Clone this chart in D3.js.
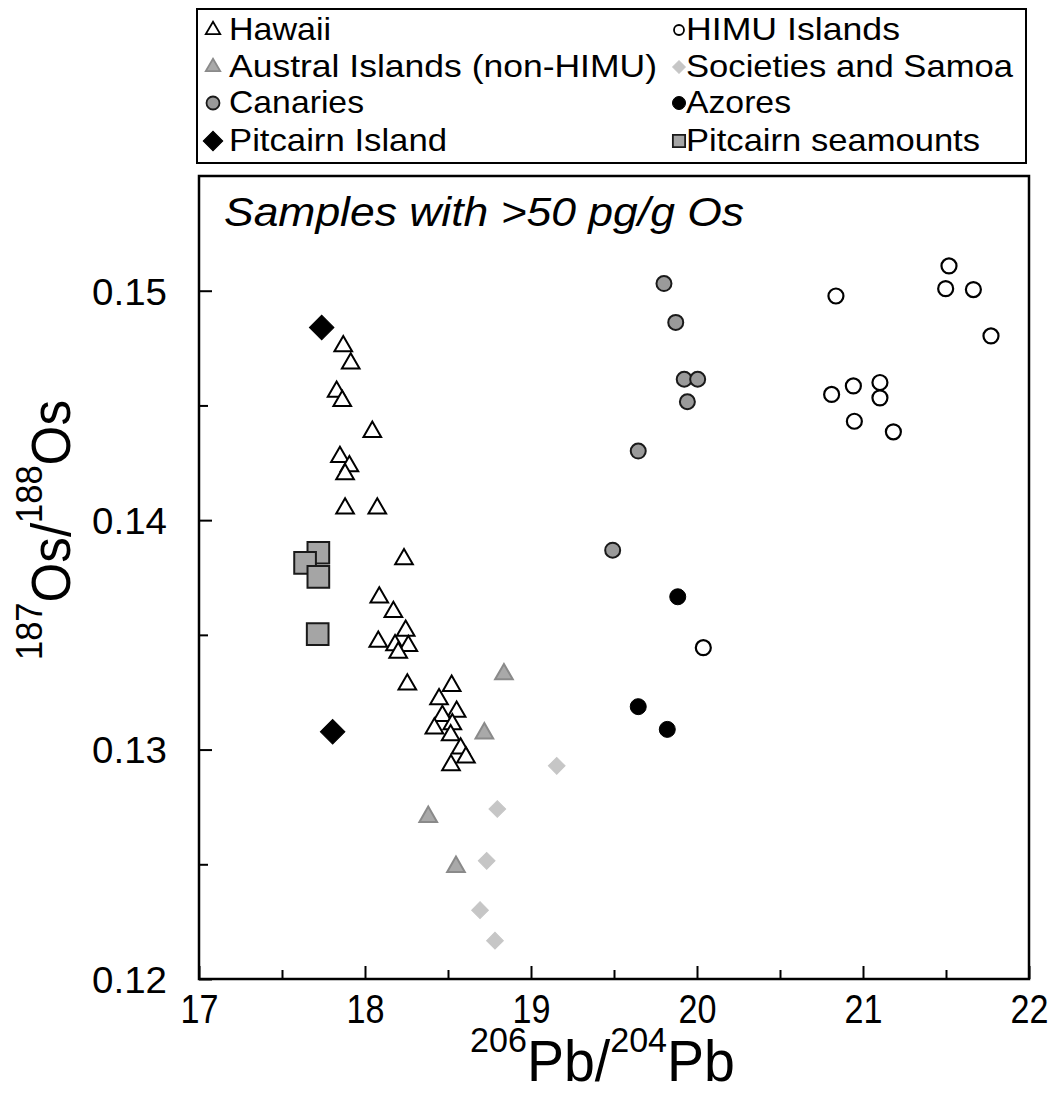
<!DOCTYPE html>
<html>
<head>
<meta charset="utf-8">
<script src="https://cdn.jsdelivr.net/npm/d3@7"></script>
<style>
  html, body { margin: 0; padding: 0; background: #fff; }
  svg { display: block; font-family: "Liberation Sans", Arial, sans-serif; }
</style>
</head>
<body>
<svg id="chart" width="1058" height="1095"></svg>
<script>
// ---------------- DATA ----------------
const xTicksMajor = [17, 18, 19, 20, 21, 22];
const xTicksMinor = [17.5, 18.5, 19.5, 20.5, 21.5];
const yTicksMajor = [0.12, 0.13, 0.14, 0.15];
const yTicksMinor = [0.125, 0.135, 0.145];

const hawaii = [
  [17.869,0.14758],[17.914,0.14683],[17.829,0.1456],[17.863,0.1452],[18.044,0.14385],
  [17.849,0.14276],[17.906,0.14235],[17.88,0.1420],[17.88,0.14051],[18.074,0.14051],
  [18.235,0.1383],[18.086,0.13663],[18.171,0.1360],[18.245,0.13518],[18.08,0.1347],
  [18.181,0.13455],[18.261,0.13452],[18.2,0.13422],[18.255,0.13284],[18.522,0.13278],
  [18.446,0.1322],[18.552,0.13165],[18.466,0.13147],[18.526,0.13111],[18.418,0.13092],
  [18.516,0.13063],[18.576,0.13005],[18.608,0.12966],[18.518,0.12932]
];
const himu = [
  [20.837,0.14977],[21.518,0.15108],[21.498,0.15009],[21.665,0.15005],[21.771,0.14803],
  [20.811,0.14548],[20.942,0.14585],[21.102,0.1460],[21.102,0.14533],[20.948,0.14431],
  [21.183,0.14385],[20.038,0.13444]
];
const austral = [[18.837,0.13329],[18.719,0.13071],[18.381,0.12707],[18.548,0.12489]];
const societies = [[19.155,0.12929],[18.797,0.12741],[18.733,0.12515],[18.693,0.1230],[18.783,0.12167]];
const canaries = [
  [19.801,0.15031],[19.872,0.14862],[19.923,0.14614],[20.004,0.14614],[19.942,0.14516],
  [19.646,0.14301],[19.492,0.13869]
];
const azores = [[19.884,0.13666],[19.646,0.13187],[19.821,0.13088]];
const pitcairnIsland = [[17.739,0.1484],[17.805,0.13078]];
const pitcairnSeamounts = [[17.719,0.13858],[17.639,0.13814],[17.719,0.13753],[17.715,0.13503]];

const legendCol1 = ["Hawaii", "Austral Islands (non-HIMU)", "Canaries", "Pitcairn Island"];
const legendCol2 = ["HIMU Islands", "Societies and Samoa", "Azores", "Pitcairn seamounts"];
const annotation = "Samples with >50 pg/g Os";

// ---------------- STYLES ----------------
const styles = {
  hawaii:    {shape: "triangle", size: 135, fill: "#ffffff", stroke: "#000", sw: 2},
  austral:   {shape: "triangle", size: 135, fill: "#a9a9a9", stroke: "#8a8a8a", sw: 2},
  canaries:  {shape: "circle",   r: 7.5,   fill: "#9a9a9a", stroke: "#1a1a1a", sw: 2},
  pitIsland: {shape: "diamond",  size: 300, fill: "#000", stroke: "#000", sw: 1},
  himu:      {shape: "circle",   r: 7.5,   fill: "#ffffff", stroke: "#000", sw: 2.2},
  societies: {shape: "diamond",  size: 140, fill: "#c6c6c6", stroke: "#c6c6c6", sw: 1},
  azores:    {shape: "circle",   r: 8,     fill: "#000", stroke: "#000", sw: 1},
  pitSea:    {shape: "square",   size: 470, fill: "#a5a5a5", stroke: "#1a1a1a", sw: 2}
};

// ---------------- LAYOUT ----------------
const svg = d3.select("#chart");
const L = 199, R = 1029, T = 176, B = 979;
const x = d3.scaleLinear().domain([17, 22]).range([L, R]);
const y = d3.scaleLinear().domain([0.12, 0.155]).range([B, T]);

function drawMarks(g, data, st) {
  if (st.shape === "circle") {
    g.selectAll(null).data(data).enter().append("circle")
      .attr("cx", d => x(d[0])).attr("cy", d => y(d[1])).attr("r", st.r)
      .attr("fill", st.fill).attr("stroke", st.stroke).attr("stroke-width", st.sw);
  } else {
    const type = st.shape === "triangle" ? d3.symbolTriangle : d3.symbolSquare;
    const rot = st.shape === "diamond" ? 45 : 0;
    g.selectAll(null).data(data).enter().append("path")
      .attr("d", d3.symbol().type(type).size(st.size))
      .attr("transform", d => `translate(${x(d[0])},${y(d[1])}) rotate(${rot})`)
      .attr("fill", st.fill).attr("stroke", st.stroke).attr("stroke-width", st.sw)
      .attr("stroke-linejoin", "miter");
  }
}

// frame
svg.append("rect").attr("x", L).attr("y", T).attr("width", R - L).attr("height", B - T)
  .attr("fill", "none").attr("stroke", "#000").attr("stroke-width", 2.5);

// x axis
const gx = svg.append("g").attr("transform", `translate(0,${B})`);
gx.call(d3.axisBottom(x).tickValues(xTicksMajor).tickSize(-13).tickFormat(d3.format("d")));
gx.append("g").call(d3.axisBottom(x).tickValues(xTicksMinor).tickSize(-9).tickFormat(""));
gx.selectAll(".domain").remove();
gx.selectAll("line").attr("stroke", "#000").attr("stroke-width", 2);
gx.selectAll("text").attr("y", 44).attr("dy", 0).attr("fill", "#000")
  .style("font-size", "41px").attr("textLength", 38).attr("lengthAdjust", "spacingAndGlyphs");

// y axis
const gy = svg.append("g").attr("transform", `translate(${L},0)`);
gy.call(d3.axisLeft(y).tickValues(yTicksMajor).tickSize(-13).tickFormat(d3.format(".2f")));
gy.append("g").call(d3.axisLeft(y).tickValues(yTicksMinor).tickSize(-9).tickFormat(""));
gy.selectAll(".domain").remove();
gy.selectAll("line").attr("stroke", "#000").attr("stroke-width", 2);
gy.selectAll("text").attr("x", -32).attr("dy", "0.36em").attr("fill", "#000")
  .style("font-size", "37px").attr("textLength", 75).attr("lengthAdjust", "spacingAndGlyphs");

// marks
const gm = svg.append("g");
drawMarks(gm, pitcairnSeamounts, styles.pitSea);
drawMarks(gm, societies, styles.societies);
drawMarks(gm, austral, styles.austral);
drawMarks(gm, hawaii, styles.hawaii);
drawMarks(gm, canaries, styles.canaries);
drawMarks(gm, himu, styles.himu);
drawMarks(gm, azores, styles.azores);
drawMarks(gm, pitcairnIsland, styles.pitIsland);

// annotation
svg.append("text").attr("x", 224).attr("y", 226)
  .style("font-size", "40px").style("font-style", "italic")
  .attr("textLength", 520).attr("lengthAdjust", "spacingAndGlyphs")
  .text(annotation);

// x axis title
const xt = svg.append("text").attr("x", 470).attr("y", 1081)
  .attr("textLength", 265).attr("lengthAdjust", "spacingAndGlyphs");
xt.append("tspan").style("font-size", "35px").attr("dy", -29).text("206");
xt.append("tspan").style("font-size", "57px").attr("dy", 29).text("Pb/");
xt.append("tspan").style("font-size", "35px").attr("dy", -29).text("204");
xt.append("tspan").style("font-size", "57px").attr("dy", 29).text("Pb");

// y axis title
const yt = svg.append("text").attr("transform", "translate(70,660) rotate(-90)")
  .attr("x", 0).attr("y", 0)
  .attr("textLength", 260).attr("lengthAdjust", "spacingAndGlyphs");
yt.append("tspan").style("font-size", "37px").attr("dy", -28).text("187");
yt.append("tspan").style("font-size", "55px").attr("dy", 28).text("Os/");
yt.append("tspan").style("font-size", "37px").attr("dy", -28).text("188");
yt.append("tspan").style("font-size", "55px").attr("dy", 28).text("Os");

// legend
svg.append("rect").attr("x", 197).attr("y", 9).attr("width", 829).attr("height", 154)
  .attr("fill", "#fff").attr("stroke", "#000").attr("stroke-width", 2);

const rowBase = [40, 77, 113, 151];
const col1Len = [102, 428, 135, 218];
const col2Len = [214, 327, 105, 294];
const legendSym1 = [
  {st: styles.hawaii, size: 90},
  {st: styles.austral, size: 90},
  {st: styles.canaries, r: 6.5},
  {st: styles.pitIsland, size: 190}
];
const legendSym2 = [
  {st: styles.himu, r: 5},
  {st: styles.societies, size: 80},
  {st: styles.azores, r: 6.5},
  {st: styles.pitSea, size: 150}
];
const gl = svg.append("g");
function legendSymbol(cx, cy, s) {
  const st = s.st;
  if (st.shape === "circle") {
    gl.append("circle").attr("cx", cx).attr("cy", cy).attr("r", s.r)
      .attr("fill", st.fill).attr("stroke", st.stroke).attr("stroke-width", Math.min(st.sw, 1.8));
  } else {
    const type = st.shape === "triangle" ? d3.symbolTriangle : d3.symbolSquare;
    const rot = st.shape === "diamond" ? 45 : 0;
    gl.append("path").attr("d", d3.symbol().type(type).size(s.size))
      .attr("transform", `translate(${cx},${cy}) rotate(${rot})`)
      .attr("fill", st.fill).attr("stroke", st.stroke).attr("stroke-width", Math.min(st.sw, 1.8));
  }
}
legendCol1.forEach((lab, i) => {
  legendSymbol(213, rowBase[i] - 10, legendSym1[i]);
  gl.append("text").attr("x", 229).attr("y", rowBase[i]).style("font-size", "32px")
    .attr("textLength", col1Len[i]).attr("lengthAdjust", "spacingAndGlyphs").text(lab);
});
legendCol2.forEach((lab, i) => {
  legendSymbol(679, rowBase[i] - 10, legendSym2[i]);
  gl.append("text").attr("x", 686).attr("y", rowBase[i]).style("font-size", "32px")
    .attr("textLength", col2Len[i]).attr("lengthAdjust", "spacingAndGlyphs").text(lab);
});
</script>
</body>
</html>
